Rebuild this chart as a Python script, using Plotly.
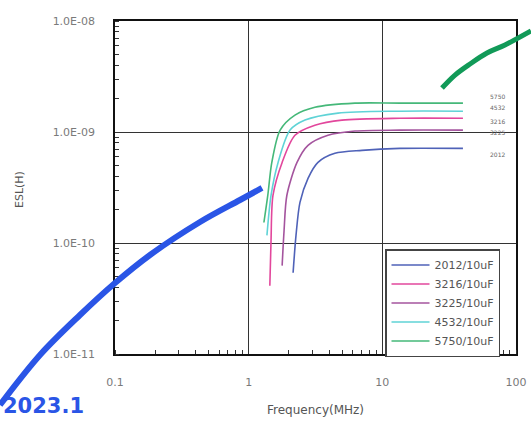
import math
import plotly.graph_objects as go

W, H = 531, 421

# ---------------- data ----------------
series_names = ["2012/10uF", "3216/10uF", "3225/10uF", "4532/10uF", "5750/10uF"]
series_colors = ["#4f62b8", "#e2479c", "#a4549e", "#5fd3d6", "#45b879"]

freq_2012 = [2.15, 2.26, 2.42, 2.78, 3.30, 4.42, 7.04, 13.5, 40.1]
esl_2012 = [5.40e-11, 1.17e-10, 2.32e-10, 3.82e-10, 5.32e-10, 6.42e-10, 6.83e-10, 7.12e-10, 7.12e-10]

freq_3216 = [1.44, 1.47, 1.52, 1.78, 2.22, 3.13, 4.99, 13.5, 40.1]
esl_3216 = [4.12e-11, 1.05e-10, 2.68e-10, 5.32e-10, 9.34e-10, 1.15e-9, 1.28e-9, 1.33e-9, 1.33e-9]

freq_3225 = [1.78, 1.84, 1.93, 2.30, 2.78, 3.92, 6.24, 13.5, 40.1]
esl_3225 = [6.25e-11, 1.29e-10, 2.68e-10, 5.32e-10, 7.58e-10, 9.34e-10, 1.02e-9, 1.04e-9, 1.04e-9]

freq_4532 = [1.37, 1.47, 1.66, 2.04, 2.64, 4.66, 13.5, 40.1]
esl_4532 = [1.17e-10, 2.68e-10, 5.32e-10, 1.04e-9, 1.28e-9, 1.48e-9, 1.54e-9, 1.54e-9]

freq_5750 = [1.30, 1.39, 1.49, 1.72, 2.22, 3.13, 6.24, 13.5, 40.1]
esl_5750 = [1.53e-10, 2.68e-10, 5.32e-10, 1.04e-9, 1.42e-9, 1.67e-9, 1.82e-9, 1.82e-9, 1.82e-9]

series_freq = [freq_2012, freq_3216, freq_3225, freq_4532, freq_5750]
series_esl = [esl_2012, esl_3216, esl_3225, esl_4532, esl_5750]

# small labels at the right end of the plateaus
end_labels = ["5750", "4532", "3216", "3225", "2012"]
end_label_freq = [62, 62, 62, 62, 62]
end_label_esl = [2.1e-9, 1.65e-9, 1.25e-9, 9.8e-10, 6.3e-10]

# hand-drawn marks
hand_blue_freq = [0.01379, 0.02747, 0.0547, 0.1, 0.1827, 0.4324, 0.861, 1.258]
hand_blue_esl = [3.475e-12, 9.80e-12, 2.245e-11, 4.36e-11, 7.80e-11, 1.546e-10, 2.44e-10, 3.13e-10]
hand_green_freq = [27.95, 34.96, 45.27, 60.67, 82.74, 129.5]
hand_green_esl = [2.49e-9, 3.26e-9, 4.10e-9, 5.15e-9, 6.08e-9, 8.13e-9]
hand_text = "2023.1"

x_tickvals = [0.1, 1, 10, 100]
x_ticktext = ["0.1", "1", "10", "100"]
y_tickvals = [1e-11, 1e-10, 1e-9, 1e-8]
y_ticktext = ["1.0E-11", "1.0E-10", "1.0E-09", "1.0E-08"]

# ---------------- layout geometry ----------------
left_px, right_px, top_px, bottom_px = 115, 516, 21, 354
xdom = [left_px / W, right_px / W]
ydom = [1 - bottom_px / H, 1 - top_px / H]
xr = [-1, 2]
yr = [-11, -8]
xppd = (right_px - left_px) / (xr[1] - xr[0])
yppd = (bottom_px - top_px) / (yr[1] - yr[0])
x2r = [xr[0] - left_px / xppd, xr[1] + (W - right_px) / xppd]
y2r = [yr[0] - (H - bottom_px) / yppd, yr[1] + top_px / yppd]

FONT = "DejaVu Sans"
GRAY = "#7a7a7a"

fig = go.Figure()

for name, col, fx, ey in zip(series_names, series_colors, series_freq, series_esl):
    fig.add_trace(go.Scatter(
        x=fx, y=ey, mode="lines", name=name,
        line=dict(color=col, width=1.6, shape="spline", smoothing=0.8),
        xaxis="x", yaxis="y",
    ))

# hand drawn overlay (full canvas axes)
fig.add_trace(go.Scatter(
    x=hand_blue_freq, y=hand_blue_esl, mode="lines", showlegend=False,
    line=dict(color="#2a55e6", width=6, shape="spline"), xaxis="x2", yaxis="y2",
))
fig.add_trace(go.Scatter(
    x=hand_green_freq, y=hand_green_esl, mode="lines", showlegend=False,
    line=dict(color="#119a58", width=5, shape="spline"), xaxis="x2", yaxis="y2",
))

for t, fx, ey in zip(end_labels, end_label_freq, end_label_esl):
    fig.add_annotation(x=math.log10(fx), y=math.log10(ey), xref="x", yref="y", text=t,
                       showarrow=False, font=dict(family=FONT, size=6, color="#666"),
                       xanchor="left", yanchor="middle")

fig.add_annotation(x=(xdom[0] + xdom[1]) / 2, y=1 - 410 / H, xref="paper", yref="paper",
                   text="Frequency(MHz)", showarrow=False, xanchor="center", yanchor="middle",
                   font=dict(family=FONT, size=12, color="#555"))
fig.add_annotation(x=20 / W, y=1 - 190 / H, xref="paper", yref="paper",
                   text="ESL(H)", showarrow=False, textangle=-90, xanchor="center",
                   yanchor="middle", font=dict(family=FONT, size=11, color="#555"))
fig.add_annotation(x=1 / W, y=1 / H, xref="paper", yref="paper", text="<b>" + hand_text + "</b>",
                   showarrow=False, xanchor="left", yanchor="bottom",
                   font=dict(family=FONT, size=21, color="#2a55e6"))

axis_common = dict(
    type="log", showline=True, linecolor="#111", linewidth=1.5, mirror=True,
    showgrid=True, gridcolor="#333", gridwidth=1.4, zeroline=False, automargin=False,
    ticks="", tickfont=dict(family=FONT, size=11, color=GRAY),
    minor=dict(ticks="inside", ticklen=4, tickcolor="#333", dtick="D1", showgrid=False),
)

fig.update_layout(
    width=W, height=H,
    margin=dict(l=0, r=0, t=0, b=0, autoexpand=False),
    paper_bgcolor="white", plot_bgcolor="rgba(0,0,0,0)",
    xaxis=dict(domain=xdom, range=xr, tickvals=x_tickvals, ticktext=x_ticktext,
               anchor="y", ticklabelstandoff=17, **axis_common),
    yaxis=dict(domain=ydom, range=yr, tickvals=y_tickvals, ticktext=y_ticktext,
               anchor="x", ticklabelstandoff=16, **axis_common),
    xaxis2=dict(type="log", domain=[0, 1], range=x2r, visible=False, anchor="y2",
                automargin=False),
    yaxis2=dict(type="log", domain=[0, 1], range=y2r, visible=False, anchor="x2",
                automargin=False),
    legend=dict(x=385 / W, y=1 - 249 / H, xanchor="left", yanchor="top",
                bgcolor="white", bordercolor="#444", borderwidth=1.5,
                font=dict(family=FONT, size=11, color="#555"),
                itemwidth=38, tracegroupgap=0),
    showlegend=True,
)

fig.write_html("out.html")
